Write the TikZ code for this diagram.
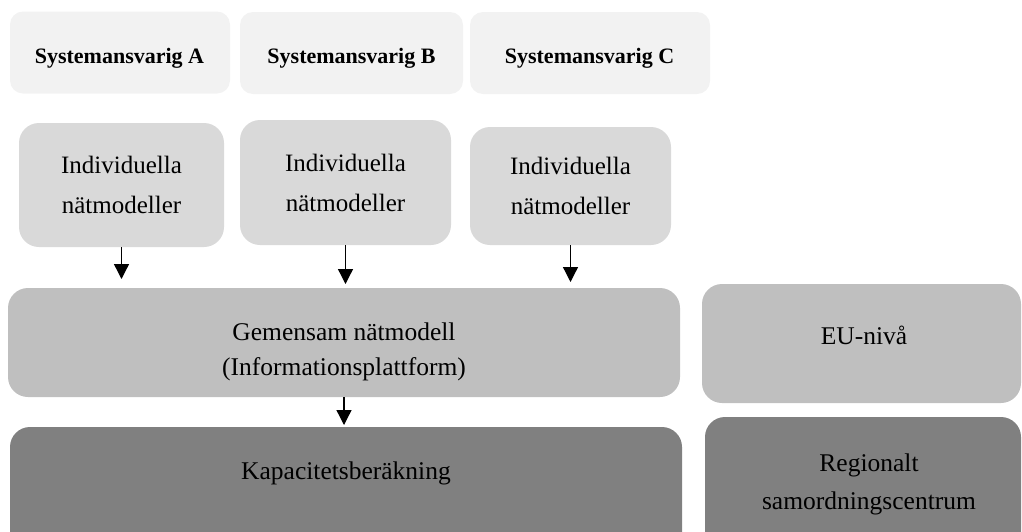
\documentclass[tikz,border=0pt]{standalone}
\usepackage{fontspec}
\setmainfont{Liberation Serif}
\usetikzlibrary{arrows.meta}
\definecolor{sysgray}{HTML}{F2F2F2}
\definecolor{indgray}{HTML}{D9D9D9}
\definecolor{midgray}{HTML}{BFBFBF}
\definecolor{darkgray}{HTML}{808080}
\tikzstyle{line} = [draw, line width=1.3pt, -{Triangle[width=15pt,length=15pt]}]
\tikzstyle{sys} = [rectangle, fill=sysgray, rounded corners=13pt, inner sep=0pt, outer sep=0pt, minimum height=82pt]
\tikzstyle{indiv} = [rectangle, fill=indgray, rounded corners=20pt, inner sep=0pt, outer sep=0pt, align=center, font=\fontsize{25}{40}\selectfont]
\tikzstyle{common} = [rectangle, fill=midgray, rounded corners=20pt, inner sep=0pt, outer sep=0pt]
\tikzstyle{calc} = [rectangle, fill=darkgray, rounded corners=20pt, inner sep=0pt, outer sep=0pt]
\tikzstyle{bold} = [inner sep=0pt, font=\bfseries\fontsize{22}{26}\selectfont]
\tikzstyle{txt} = [inner sep=0pt, align=center, font=\fontsize{25.5}{38}\selectfont]

\begin{document}
\begin{tikzpicture}[x=1pt, y=-1pt]
\path [use as bounding box, clip] (0,0) rectangle (1022,531);

% system operators
\node [sys, minimum width=220pt] (sysA) at (120,52.5) {};
\node [sys, minimum width=223pt] (sysB) at (351.5,53) {};
\node [sys, minimum width=240pt] (sysC) at (590,53) {};
\node [bold] (sysAtext) at (119.5,58) {Systemansvarig A};
\node [bold] (sysBtext) at (351.5,58) {Systemansvarig B};
\node [bold] (sysCtext) at (589.5,58) {Systemansvarig C};

% individual models
\node [indiv, minimum width=205pt, minimum height=124pt] (indA) at (121.5,185) {Individuella\\nätmodeller};
\node [indiv, minimum width=211pt, minimum height=125pt] (indB) at (345.5,182.5) {Individuella\\nätmodeller};
\node [indiv, minimum width=201pt, minimum height=118pt] (indC) at (570.5,186) {Individuella\\nätmodeller};

% common model
\node [common, minimum width=672pt, minimum height=109pt] (gem) at (344,342.5) {};
\node [txt, font=\fontsize{25.5}{35}\selectfont] (gemtext) at (344,352) {Gemensam nätmodell\\(Informationsplattform)};
\node [common, minimum width=319pt, minimum height=119pt] (eu) at (861.5,343.5) {};
\node [txt] (eutext) at (864,335) {EU-nivå};

% calculation
\node [calc, minimum width=672pt, minimum height=140pt] (kap) at (346,497) {};
\node [txt] (kaptext) at (346,473) {Kapacitetsberäkning};
\node [calc, minimum width=316pt, minimum height=140pt] (rsc) at (863,487) {};
\node [txt] (rsctext) at (869,484) {Regionalt\\samordningscentrum};

\path [line, shorten >=9pt] (indA.south) to (indA.south |- gem.north);
\path [line, shorten >=4pt] (indB.south) to (indB.south |- gem.north);
\path [line, shorten >=6pt] (indC.south) to (indC.south |- gem.north);
\path [line, shorten >=2pt] (gem.south) to (gem.south |- kap.north);

\end{tikzpicture}
\end{document}
